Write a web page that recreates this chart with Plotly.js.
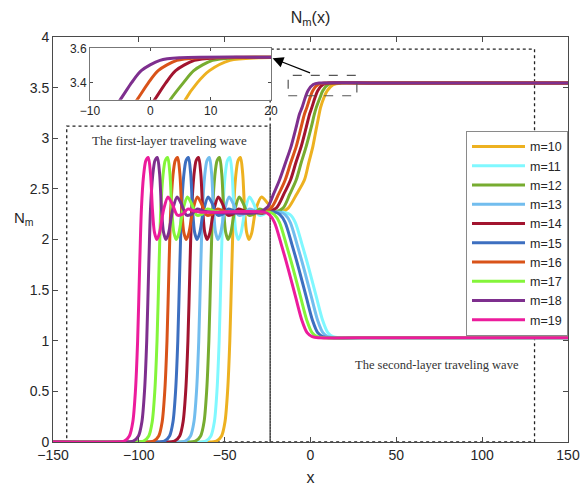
<!DOCTYPE html>
<html><head><meta charset="utf-8">
<script src="https://cdn.plot.ly/plotly-3.0.1.min.js"></script>
<style>html,body{margin:0;padding:0;background:#fff}#chart{width:581px;height:492px}</style>
</head><body><div id="chart"></div>
<script>
// ---- data ----
const seriesNames = ['m=10','m=11','m=12','m=13','m=14','m=15','m=16','m=17','m=18','m=19'];
const seriesColors = ['#EDB120','#80F8FF','#77AC30','#72BDEE','#A2142F','#3D6FC0','#D95319','#84F53A','#7E2F8E','#EC1C9C'];
const xTicks = [-150,-100,-50,0,50,100,150];
const yTicks = [0,0.5,1,1.5,2,2.5,3,3.5,4];
const insetXTicks = [-10,0,10,20];
const insetYTicks = [3.4,3.6];

const x10 = [-150,-60.8,-54.8,-51.8,-49.8,-48.3,-47,-45.8,-44.8,-43.6,-42.2,-40.8,-39.5,-38.4,-37.2,-35.8,-34.3,-31.8,-28.5,-25,-21,-17,-13,-8,-3.5,-1,1.4,3.2,4.6,5.8,7.8,9.8,13.2,18,40,150];
const y10 = [0,0,0.01,0.06,0.2,0.5,1.0,1.75,2.3,2.62,2.78,2.81,2.65,2.3,2.07,2.0,2.06,2.3,2.42,2.36,2.28,2.27,2.31,2.45,2.59,2.76,2.92,3.08,3.2,3.3,3.4,3.47,3.53,3.545,3.545,3.545];

const x11 = [-150,-67,-61,-58,-56,-54.5,-53.2,-52,-51,-49.8,-48.4,-47,-45.7,-44.6,-43.4,-42,-40.5,-38,-35.5,-33,-30,-27,-24,-20,-16,-11.9,-8.9,-4.9,-0.9,3.6,7.1,10.1,13.1,17.1,40,150];
const y11 = [0,0,0.01,0.06,0.2,0.5,1.0,1.75,2.3,2.62,2.78,2.81,2.65,2.3,2.07,2.0,2.06,2.3,2.42,2.35,2.24,2.25,2.3,2.28,2.27,2.245,2.17,1.95,1.71,1.42,1.2,1.08,1.04,1.03,1.03,1.03];

const x12 = [-150,-73,-67,-64,-62,-60.5,-59.2,-58,-57,-55.8,-54.4,-53,-51.7,-50.6,-49.4,-48,-46.5,-44,-41.5,-39,-36,-33,-30,-26,-21,-16,-12,-8.3,-5.4,-2.5,0.3,2.3,3.3,5.5,7.2,10.3,14,40,150];
const y12 = [0,0,0.01,0.06,0.2,0.5,1.0,1.75,2.3,2.62,2.78,2.81,2.65,2.3,2.07,2.0,2.06,2.3,2.42,2.35,2.24,2.25,2.3,2.28,2.27,2.31,2.45,2.59,2.76,2.92,3.1,3.24,3.3,3.4,3.47,3.53,3.545,3.545,3.545];

const x13 = [-150,-78.9,-72.9,-69.9,-67.9,-66.4,-65.1,-63.9,-62.9,-61.7,-60.3,-58.9,-57.6,-56.5,-55.3,-53.9,-52.4,-49.9,-47.4,-44.9,-41.9,-38.9,-35.9,-31.9,-27.9,-17.8,-14.8,-11.8,-7.8,-3.8,0.7,4.2,7.2,10.2,14.2,40,150];
const y13 = [0,0,0.01,0.06,0.2,0.5,1.0,1.75,2.3,2.62,2.78,2.81,2.65,2.3,2.07,2.0,2.06,2.3,2.42,2.35,2.24,2.25,2.3,2.28,2.27,2.27,2.245,2.17,1.95,1.71,1.42,1.2,1.08,1.04,1.03,1.03,1.03];

const x14 = [-150,-85.2,-79.2,-76.2,-74.2,-72.7,-71.4,-70.2,-69.2,-68,-66.6,-65.2,-63.9,-62.8,-61.6,-60.2,-58.7,-56.2,-53.7,-51.2,-48.2,-45.2,-42.2,-38.2,-34.2,-28,-20,-15.5,-11.6,-8.5,-5.4,-2.6,-0.5,0.7,2.6,4.2,7.3,11,40,150];
const y14 = [0,0,0.01,0.06,0.2,0.5,1.0,1.75,2.3,2.62,2.78,2.81,2.65,2.3,2.07,2.0,2.06,2.3,2.42,2.35,2.24,2.25,2.3,2.28,2.27,2.26,2.31,2.45,2.59,2.76,2.92,3.1,3.24,3.3,3.4,3.47,3.53,3.545,3.545,3.545];

const x15 = [-150,-91.1,-85.1,-82.1,-80.1,-78.6,-77.3,-76.1,-75.1,-73.9,-72.5,-71.1,-69.8,-68.7,-67.5,-66.1,-64.6,-62.1,-59.6,-57.1,-54.1,-51.1,-48.1,-44.1,-40.1,-20.8,-17.8,-14.8,-10.8,-6.8,-2.3,1.2,4.2,7.2,11.2,40,150];
const y15 = [0,0,0.01,0.06,0.2,0.5,1.0,1.75,2.3,2.62,2.78,2.81,2.65,2.3,2.07,2.0,2.06,2.3,2.42,2.35,2.24,2.25,2.3,2.28,2.27,2.27,2.245,2.17,1.95,1.71,1.42,1.2,1.08,1.04,1.03,1.03,1.03];

const x16 = [-150,-97.4,-91.4,-88.4,-86.4,-84.9,-83.6,-82.4,-81.4,-80.2,-78.8,-77.4,-76.1,-75,-73.8,-72.4,-70.9,-68.4,-65.9,-63.4,-60.4,-57.4,-54.4,-50.4,-46.4,-29,-23,-18.5,-14.7,-11.5,-8.3,-5.6,-3.5,-2.2,-0.3,1.3,4.4,8,40,150];
const y16 = [0,0,0.01,0.06,0.2,0.5,1.0,1.75,2.3,2.62,2.78,2.81,2.65,2.3,2.07,2.0,2.06,2.3,2.42,2.35,2.24,2.25,2.3,2.28,2.27,2.27,2.31,2.45,2.59,2.76,2.92,3.1,3.24,3.3,3.4,3.47,3.53,3.545,3.545,3.545];

const x17 = [-150,-103.2,-97.2,-94.2,-92.2,-90.7,-89.4,-88.2,-87.2,-86,-84.6,-83.2,-81.9,-80.8,-79.6,-78.2,-76.7,-74.2,-71.7,-69.2,-66.2,-63.2,-60.2,-56.2,-52.2,-24.1,-21.1,-18.1,-14.1,-10.1,-5.6,-2.1,0.9,3.9,7.9,40,150];
const y17 = [0,0,0.01,0.06,0.2,0.5,1.0,1.75,2.3,2.62,2.78,2.81,2.65,2.3,2.07,2.0,2.06,2.3,2.42,2.35,2.24,2.25,2.3,2.28,2.27,2.27,2.245,2.17,1.95,1.71,1.42,1.2,1.08,1.04,1.03,1.03,1.03];

const x18 = [-150,-109.2,-103.2,-100.2,-98.2,-96.7,-95.4,-94.2,-93.2,-92,-90.6,-89.2,-87.9,-86.8,-85.6,-84.2,-82.7,-80.2,-77.7,-75.2,-72.2,-69.2,-66.2,-62.2,-58.2,-30,-25,-21.5,-18,-14.5,-11.3,-8.5,-6.4,-5,-3.1,-1.5,1.6,5,40,150];
const y18 = [0,0,0.01,0.06,0.2,0.5,1.0,1.75,2.3,2.62,2.78,2.81,2.65,2.3,2.07,2.0,2.06,2.3,2.42,2.35,2.24,2.25,2.3,2.28,2.27,2.27,2.32,2.45,2.59,2.76,2.92,3.1,3.24,3.3,3.4,3.47,3.53,3.545,3.545,3.545];

const x19 = [-150,-114.5,-108.5,-105.5,-103.5,-102,-100.7,-99.5,-98.5,-97.3,-95.9,-94.5,-93.2,-92.1,-90.9,-89.5,-88,-85.5,-83,-80.5,-77.5,-74.5,-71.5,-67.5,-63.5,-27,-24,-21,-17,-13,-8.5,-5,-2,1,5,40,150];
const y19 = [0,0,0.01,0.06,0.2,0.5,1.0,1.75,2.3,2.62,2.78,2.81,2.65,2.3,2.07,2.0,2.06,2.3,2.42,2.35,2.24,2.25,2.3,2.28,2.27,2.27,2.245,2.17,1.95,1.71,1.42,1.2,1.08,1.04,1.03,1.03,1.03];

const xs = [x10,x11,x12,x13,x14,x15,x16,x17,x18,x19];
const ys = [y10,y11,y12,y13,y14,y15,y16,y17,y18,y19];
const insetSeries = [0,2,4,6,8]; // curves rising to the upper level

// ---- traces ----
const traces = [];
for (let i = 0; i < xs.length; i++) {
  traces.push({x: xs[i], y: ys[i], type: 'scatter', mode: 'lines', name: seriesNames[i],
    line: {color: seriesColors[i], width: 3, shape: 'spline', smoothing: 0.8}});
}
insetSeries.forEach(i => {
  traces.push({x: xs[i], y: ys[i], type: 'scatter', mode: 'lines', showlegend: false,
    xaxis: 'x2', yaxis: 'y2', line: {color: seriesColors[i], width: 3, shape: 'spline', smoothing: 0.8}});
});

const axisCol = '#4a4a4a';
const layout = {
  width: 581, height: 492,
  margin: {l: 53, r: 13, t: 37, b: 50},
  paper_bgcolor: '#fff', plot_bgcolor: '#fff',
  font: {family: 'Liberation Sans, Arial, sans-serif', size: 14, color: '#262626'},
  title: {text: 'N<sub>m</sub>(x)', xref: 'paper', x: 0.5, xanchor: 'center', yref: 'container', y: 0.965, yanchor: 'middle', font: {size: 16, color: '#262626'}},
  showlegend: true,
  xaxis: {range: [-150, 150], tickvals: xTicks, ticks: 'inside', ticklen: 5, tickcolor: axisCol, showline: true, linecolor: axisCol, linewidth: 1, mirror: 'ticks', showgrid: false, zeroline: false,
    title: {text: 'x', standoff: 10, font: {size: 16}}},
  yaxis: {range: [0, 4], tickvals: yTicks, ticks: 'inside', ticklen: 5, tickcolor: axisCol, showline: true, linecolor: axisCol, linewidth: 1, mirror: 'ticks', showgrid: false, zeroline: false},
  xaxis2: {domain: [0.0718, 0.4233], anchor: 'y2', range: [-10, 20], tickvals: insetXTicks, ticks: 'inside', ticklen: 3, tickcolor: axisCol, showline: true, linecolor: '#777', mirror: 'ticks', showgrid: false, zeroline: false, tickfont: {size: 12}},
  yaxis2: {domain: [0.845, 0.972], anchor: 'x2', range: [3.3, 3.6], tickvals: insetYTicks, ticks: 'inside', ticklen: 3, tickcolor: axisCol, showline: true, linecolor: '#777', mirror: 'ticks', showgrid: false, zeroline: false, tickfont: {size: 12}},
  legend: {x: 1, xanchor: 'right', y: 0.768, yanchor: 'top', bgcolor: '#fff', bordercolor: '#8a8a8a', borderwidth: 1, itemwidth: 53, font: {size: 12.5, color: '#262626'}},
  shapes: [
    {type: 'rect', xref: 'x', yref: 'y', x0: -142, x1: -23.5, y0: 0, y1: 3.12, line: {color: '#222', width: 1.3, dash: 'dot'}, layer: 'below'},
    {type: 'rect', xref: 'x', yref: 'y', x0: -23.5, x1: 130.5, y0: 0, y1: 3.88, line: {color: '#222', width: 1.3, dash: 'dot'}, layer: 'below'},
    {type: 'rect', xref: 'x', yref: 'y', x0: -13, x1: 27, y0: 3.42, y1: 3.62, line: {color: '#555', width: 1.2, dash: 'dash'}, layer: 'above'}
  ],
  annotations: [
    {xref: 'paper', yref: 'paper', x: -0.08, y: 0.553, text: 'N<sub>m</sub>', showarrow: false, font: {size: 15, color: '#262626'}},
    {xref: 'x', yref: 'y', x: -82, y: 2.98, text: 'The first-layer traveling wave', showarrow: false, font: {family: 'Liberation Serif, Times New Roman, serif', size: 13, color: '#333'}},
    {xref: 'x', yref: 'y', x: 73.4, y: 0.76, text: 'The second-layer traveling wave', showarrow: false, font: {family: 'Liberation Serif, Times New Roman, serif', size: 12.5, color: '#333'}},
    {xref: 'x', yref: 'y', x: -22.1, y: 3.79, axref: 'x', ayref: 'y', ax: 0.6, ay: 3.64, text: '', showarrow: true, arrowhead: 2, arrowsize: 1.8, arrowwidth: 1.2, arrowcolor: '#000'}
  ]
};

Plotly.newPlot('chart', traces, layout, {displayModeBar: false, staticPlot: true});
</script>
</body></html>
